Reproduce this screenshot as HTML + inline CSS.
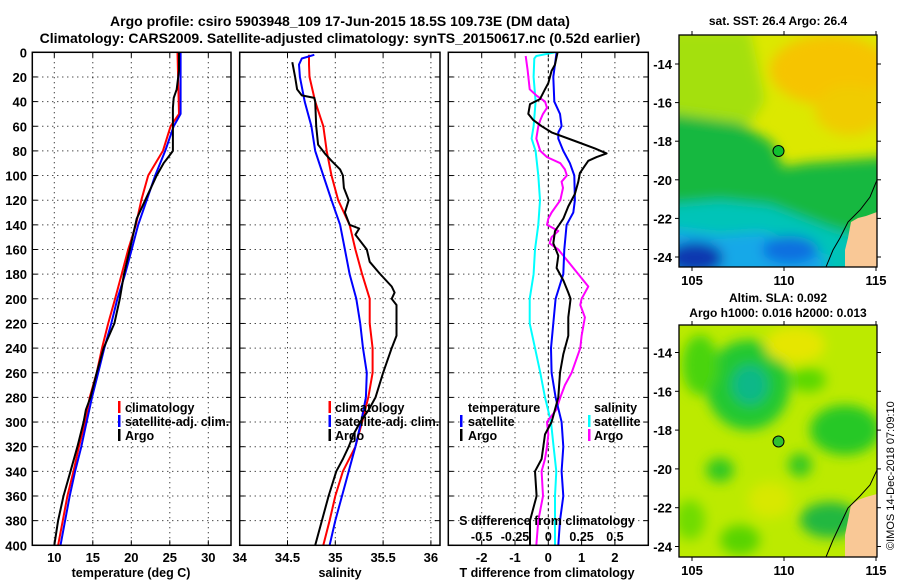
<!DOCTYPE html>
<html><head><meta charset="utf-8"><style>
html,body{margin:0;padding:0;background:#fff;}
svg{display:block;font-family:"Liberation Sans",Arial,sans-serif;font-weight:bold;}
</style></head><body>
<svg id="fig" width="900" height="580" viewBox="0 0 900 580" xmlns="http://www.w3.org/2000/svg">
<defs>
<filter id="blur6" x="-20%" y="-20%" width="140%" height="140%"><feGaussianBlur stdDeviation="6"/></filter>
<clipPath id="clipTop"><rect x="679" y="35" width="198" height="232"/></clipPath>
<clipPath id="clipBot"><rect x="679" y="325" width="198" height="232"/></clipPath>
</defs>
<text x="340" y="26" text-anchor="middle" font-size="14">Argo profile: csiro 5903948_109 17-Jun-2015 18.5S 109.73E (DM data)</text>
<text x="340" y="43" text-anchor="middle" font-size="14">Climatology: CARS2009. Satellite-adjusted climatology: synTS_20150617.nc (0.52d earlier)</text>

<g id="maps">
<text x="778" y="25" text-anchor="middle" font-size="12">sat. SST: 26.4 Argo: 26.4</text>
<g clip-path="url(#clipTop)">
<rect x="679" y="35" width="198" height="232" fill="#dce800"/>
<g filter="url(#blur6)">
<ellipse cx="830" cy="70" rx="60" ry="35" fill="#f6c400"/>
<ellipse cx="850" cy="110" rx="35" ry="25" fill="#f0cc00"/>
<polygon points="660,30 750,30 765,100 750,125 660,115" fill="#a4e010"/>
<polygon points="660,112 740,123 773,143 783,167 807,163 890,157 890,290 660,290" fill="#12b840"/>
<polygon points="660,205 720,200 770,205 830,228 890,245 890,290 660,290" fill="#00c4b8"/>
<polygon points="660,228 720,235 760,232 790,240 825,255 825,290 660,290" fill="#18a8e8"/>
<ellipse cx="695" cy="258" rx="28" ry="16" fill="#0838b0"/>
<ellipse cx="790" cy="250" rx="28" ry="14" fill="#1070e0"/>
</g>
<polygon points="851,222 858,218 866,216 877,212 877,267 845,267 845,250 848,238" fill="#f9c896"/>
<polyline points="877,180 870,197 860,210 848,222 840,238 833,250 826,267" fill="none" stroke="#000" stroke-width="1"/>
<circle cx="778.5" cy="151" r="5.5" fill="#10c030" stroke="#000" stroke-width="1"/>
</g>
<rect x="679" y="35" width="198" height="232" fill="none" stroke="#000" stroke-width="1.3"/>

<text x="778" y="302" text-anchor="middle" font-size="12">Altim. SLA: 0.092</text>
<text x="778" y="317" text-anchor="middle" font-size="12">Argo h1000: 0.016 h2000: 0.013</text>
<g clip-path="url(#clipBot)">
<rect x="679" y="325" width="198" height="232" fill="#bcea00"/>
<g filter="url(#blur6)">
<ellipse cx="748" cy="385" rx="42" ry="45" fill="#20c830"/>
<ellipse cx="750" cy="385" rx="18" ry="20" fill="#10b888"/>
<ellipse cx="700" cy="365" rx="18" ry="30" fill="#48d410"/>
<ellipse cx="795" cy="345" rx="30" ry="18" fill="#e6e600"/>
<ellipse cx="845" cy="430" rx="35" ry="25" fill="#28c828"/>
<ellipse cx="808" cy="380" rx="18" ry="12" fill="#5ad800"/>
<ellipse cx="720" cy="470" rx="14" ry="12" fill="#30c820"/>
<ellipse cx="770" cy="500" rx="22" ry="18" fill="#d8e800"/>
<ellipse cx="800" cy="465" rx="12" ry="12" fill="#38c820"/>
<ellipse cx="830" cy="520" rx="30" ry="18" fill="#20b840"/>
<ellipse cx="690" cy="520" rx="15" ry="20" fill="#70dc00"/>
<ellipse cx="740" cy="540" rx="20" ry="15" fill="#58d400"/>
</g>
<polygon points="851,505 858,500 866,497 877,494 877,557 845,557 845,535 848,520" fill="#f9c896"/>
<polyline points="877,470 870,485 860,496 848,508 840,525 833,540 826,557" fill="none" stroke="#000" stroke-width="1"/>
<circle cx="778.5" cy="441.5" r="5.5" fill="#30c030" stroke="#000" stroke-width="1"/>
</g>
<rect x="679" y="325" width="198" height="232" fill="none" stroke="#000" stroke-width="1.3"/>
<g id="mapTicks"></g>
<text transform="translate(894,550) rotate(-90)" font-size="11" font-weight="normal">©IMOS 14-Dec-2018 07:09:10</text>
</g>

<g id="panels"></g>
</svg>
<script>
// depth levels (m) shared by profiles
const tDepths = [0,50,60,80,100,120,140,160,180,200,220,240,260,280,300,320,340,360,380,400];
const tClim = [26.0,26.2,25.1,24.1,22.2,21.3,20.6,19.6,18.75,17.9,17.0,16.2,15.5,14.6,14.0,13.2,12.5,11.7,11.1,10.5];
const tSat = [26.4,26.4,25.5,24.4,23.1,22.0,20.9,20.05,19.2,18.2,17.4,16.5,15.7,14.9,14.2,13.5,12.7,12.0,11.4,10.8];
const argoTDepths = [0,15,30,37,45,50,80,85,90,100,120,135,160,180,200,220,240,260,280,290,300,320,340,360,380,400];
const argoT = [26.2,26.2,25.9,25.5,25.4,25.4,25.4,24.8,24.2,23.3,21.8,20.7,19.8,19.05,18.5,17.8,16.4,15.5,14.7,14.1,13.8,13.0,12.1,11.2,10.5,10.0];

const sDepths = [2,5,10,20,40,60,80,100,120,140,160,180,200,220,240,260,280,300,320,340,360,380,400];
const sClim = [34.725,34.725,34.725,34.73,34.79,34.875,34.91,34.96,35.03,35.15,35.21,35.28,35.36,35.36,35.39,35.39,35.345,35.28,35.21,35.08,35.0,34.94,34.875];
const sSat = [34.78,34.65,34.62,34.63,34.68,34.75,34.79,34.875,34.96,35.05,35.10,35.15,35.22,35.26,35.29,35.33,35.32,35.27,35.21,35.14,35.07,35.0,34.94];
const argoSDepths = [8,20,30,35,37,40,60,75,82,88,95,100,110,120,130,140,143,148,160,170,180,190,195,200,205,220,230,240,260,280,290,300,310,320,330,340,360,380,400];
const argoS = [34.55,34.58,34.60,34.65,34.78,34.79,34.80,34.82,34.89,34.96,35.05,35.08,35.09,35.14,35.10,35.15,35.25,35.21,35.33,35.36,35.47,35.59,35.62,35.59,35.64,35.64,35.64,35.59,35.50,35.42,35.35,35.26,35.19,35.14,35.08,35.01,34.93,34.86,34.79];

const dtSatDepths = [0,20,40,50,60,65,70,80,90,100,120,130,140,160,180,200,220,240,260,280,300,320,340,360,380,400];
const dtSat = [0.25,0.15,0.18,0.35,0.4,0.3,0.3,0.45,0.65,0.78,0.8,0.75,0.55,0.48,0.45,0.22,0.15,0.08,0.1,0.22,0.4,0.45,0.4,0.45,0.35,0.3];
const dtArgoDepths = [0,10,15,25,30,38,42,50,55,60,65,72,78,82,85,88,92,98,105,115,125,135,145,155,165,175,185,195,200,215,230,245,260,280,300,310,320,330,340,360,380,400];
const dtArgo = [0.28,0.2,0.1,0,-0.1,-0.25,-0.55,-0.6,-0.45,-0.2,0.1,0.8,1.4,1.75,1.45,1.2,1.1,0.95,0.9,0.8,0.6,0.45,0.2,0.15,0.3,0.25,0.45,0.6,0.67,0.6,0.6,0.45,0.35,0.3,0.1,-0.1,-0.15,-0.2,-0.4,-0.35,-0.55,-0.55];
const dsSatDepths = [0,3,5,20,40,60,70,80,100,120,140,160,180,200,220,240,260,280,300,320,340,360,380,400];
const dsSat = [0.05,-0.09,-0.105,-0.11,-0.095,-0.11,-0.125,-0.095,-0.075,-0.0625,-0.075,-0.1,-0.11,-0.14,-0.14,-0.1,-0.06,-0.025,0.02,0.04,0.06,0.05,0.05,0.05];
const dsArgoDepths = [3,15,30,35,40,45,50,55,60,70,80,85,90,95,100,105,110,120,130,135,140,145,150,155,160,170,180,190,200,205,215,230,240,260,270,280,290,300,310,320,330,340,360,380,400];
const dsArgo = [-0.17,-0.155,-0.14,-0.09,-0.025,-0.01,-0.04,-0.06,-0.075,-0.09,-0.06,-0.01,0.09,0.125,0.14,0.1,0.11,0.09,0.025,0,-0.01,0.075,0.025,0.01,0.075,0.15,0.225,0.3,0.25,0.24,0.275,0.25,0.24,0.175,0.125,0.09,0.06,-0.01,0,-0.01,-0.025,-0.05,-0.04,-0.075,-0.09];

const depthTicks = [0,20,40,60,80,100,120,140,160,180,200,220,240,260,280,300,320,340,360,380,400];
const p1Ticks = [10,15,20,25,30];
const p1Labels = ["10","15","20","25","30"];
const p2Ticks = [34,34.5,35,35.5,36];
const p2Labels = ["34","34.5","35","35.5","36"];
const p3Ticks = [-2,-1,0,1,2];
const p3Labels = ["-2","-1","0","1","2"];
const p3STicks = [-0.5,-0.25,0,0.25,0.5];
const p3SLabels = ["-0.5","-0.25","0","0.25","0.5"];
const lonTicks = [105,110,115];
const latTicks = [-14,-16,-18,-20,-22,-24];

const NS = "http://www.w3.org/2000/svg";
const Y0 = 52.3, Y1 = 545.3;
const yD = d => Y0 + d * (Y1 - Y0) / 400;
const x1 = v => 54.3 + (v - 10) * 7.7;
const x2 = v => 239.7 + (v - 34) * 95.6;
const x3 = v => 548.3 + v * 33.3;
const x3s = v => 548.3 + v * 133.2;
const root = document.getElementById('panels');

function mk(tag, attrs, parent) {
  const e = document.createElementNS(NS, tag);
  for (const k in attrs) e.setAttribute(k, attrs[k]);
  (parent || root).appendChild(e);
  return e;
}
function txt(s, x, y, anchor, size, parent) {
  const t = mk('text', {x: x, y: y, 'text-anchor': anchor, 'font-size': size}, parent);
  t.textContent = s;
  return t;
}
function line(xs, depths, sx, color, name, g) {
  const pts = xs.map((v, i) => sx(v).toFixed(1) + ',' + yD(depths[i]).toFixed(1)).join(' ');
  const p = mk('polyline', {points: pts, fill: 'none', stroke: color, 'stroke-width': 2, 'stroke-linejoin': 'round'}, g);
  
  
}
function frame(L, R, name, xt, sx, xl, centerDashed) {
  const g = mk('g', {});
  
  
  depthTicks.forEach(d => {
    const y = yD(d);
    if (d > 0 && d < 400) mk('line', {x1: L, x2: R, y1: y, y2: y, stroke: '#000', 'stroke-width': 1, 'stroke-dasharray': '1,4'}, g);
    mk('line', {x1: L, x2: L + 5, y1: y, y2: y, stroke: '#000'}, g);
    mk('line', {x1: R - 5, x2: R, y1: y, y2: y, stroke: '#000'}, g);
  });
  xt.forEach((v, i) => {
    const x = sx(v);
    if (x > L + 1 && x < R - 1) {
      const dash = (centerDashed && v === 0) ? '3,3' : '1,4';
      mk('line', {x1: x, x2: x, y1: Y0, y2: Y1, stroke: '#000', 'stroke-width': 1, 'stroke-dasharray': dash}, g);
    }
    mk('line', {x1: x, x2: x, y1: Y0, y2: Y0 + 5, stroke: '#000'}, g);
    mk('line', {x1: x, x2: x, y1: Y1 - 5, y2: Y1, stroke: '#000'}, g);
    const t = txt(xl[i], x, 562, 'middle', 13, g);
    
    
  });
  return g;
}
function frameBox(L, R, g) {
  mk('rect', {x: L, y: Y0, width: R - L, height: Y1 - Y0, fill: 'none', stroke: '#000', 'stroke-width': 1.5}, g);
}
function legend(items, bx, tx, g) {
  items.forEach((it, i) => {
    const y = 407 + i * 14;
    mk('rect', {x: bx, y: y - 6, width: 2.5, height: 12, fill: it[1]}, g);
    const t = txt(it[0], tx, y + 5, 'start', 12.5, g);
    
    
  });
}

// Panel 1 temperature
const g1 = frame(32.3, 231, 'temperature-panel', p1Ticks, x1, p1Labels, false);
depthTicks.forEach(d => {
  const t = txt(String(d), 27, yD(d) + 5, 'end', 13, g1);
  
  
});
line(tClim, tDepths, x1, '#ff0000', 'temperature-climatology-line', g1);
line(tSat, tDepths, x1, '#0000ff', 'temperature-satellite-line', g1);
line(argoT, argoTDepths, x1, '#000000', 'temperature-argo-line', g1);
frameBox(32.3, 231, g1);
legend([['climatology', '#f00'], ['satellite-adj. clim.', '#00f'], ['Argo', '#000']], 118, 125, g1);
let t1 = txt('temperature (deg C)', 131, 577, 'middle', 12.5, g1);



// Panel 2 salinity
const g2 = frame(239.7, 440, 'salinity-panel', p2Ticks, x2, p2Labels, false);
line(sClim, sDepths, x2, '#ff0000', 'salinity-climatology-line', g2);
line(sSat, sDepths, x2, '#0000ff', 'salinity-satellite-line', g2);
line(argoS, argoSDepths, x2, '#000000', 'salinity-argo-line', g2);
frameBox(239.7, 440, g2);
legend([['climatology', '#f00'], ['satellite-adj. clim.', '#00f'], ['Argo', '#000']], 328.5, 335, g2);
let t2 = txt('salinity', 340, 577, 'middle', 12.5, g2);



// Panel 3 differences
const g3 = frame(448.3, 648.3, 'difference-panel', p3Ticks, x3, p3Labels, true);
line(dsSat, dsSatDepths, x3s, '#00ffff', 'salinity-satellite-diff-line', g3);
line(dsArgo, dsArgoDepths, x3s, '#ff00ff', 'salinity-argo-diff-line', g3);
line(dtSat, dtSatDepths, x3, '#0000ff', 'temperature-satellite-diff-line', g3);
line(dtArgo, dtArgoDepths, x3, '#000000', 'temperature-argo-diff-line', g3);
frameBox(448.3, 648.3, g3);
let th = txt('temperature', 468, 412, 'start', 12.5, g3);


let sh = txt('salinity', 594, 412, 'start', 12.5, g3);


[['satellite', '#00f'], ['Argo', '#000']].forEach((it, i) => {
  const y = 421 + i * 14;
  mk('rect', {x: 460, y: y - 6, width: 2.5, height: 12, fill: it[1]}, g3);
  const t = txt(it[0], 468, y + 5, 'start', 12.5, g3);
  
  
});
[['satellite', '#0ff'], ['Argo', '#f0f']].forEach((it, i) => {
  const y = 421 + i * 14;
  mk('rect', {x: 588, y: y - 6, width: 2.5, height: 12, fill: it[1]}, g3);
  const t = txt(it[0], 594, y + 5, 'start', 12.5, g3);
  
  
});
let st = txt('S difference from climatology', 547, 525, 'middle', 12.5, g3);


p3STicks.forEach((v, i) => {
  const t = txt(p3SLabels[i], x3s(v), 541, 'middle', 12.5, g3);
  
  
});
let tt = txt('T difference from climatology', 547, 577, 'middle', 12.5, g3);



// Map ticks
const mt = document.getElementById('mapTicks');
const lonX = v => 692 + (v - 105) * 18.4;
[[35, 267, 64, 19.3], [325, 557, 352.5, 19.4]].forEach(m => {
  lonTicks.forEach(v => {
    const x = lonX(v);
    mk('line', {x1: x, x2: x, y1: m[0] - 4, y2: m[0], stroke: '#000'}, mt);
    mk('line', {x1: x, x2: x, y1: m[1], y2: m[1] + 4, stroke: '#000'}, mt);
    const t = txt(String(v), x, m[1] + 18, 'middle', 13, mt);
    
    
  });
  latTicks.forEach(v => {
    const y = m[2] + (-14 - v) * m[3];
    mk('line', {x1: 675, x2: 679, y1: y, y2: y, stroke: '#000'}, mt);
    mk('line', {x1: 877, x2: 881, y1: y, y2: y, stroke: '#000'}, mt);
    const t = txt(String(v), 672, y + 5, 'end', 13, mt);
    
    
  });
});
</script>
</body></html>
